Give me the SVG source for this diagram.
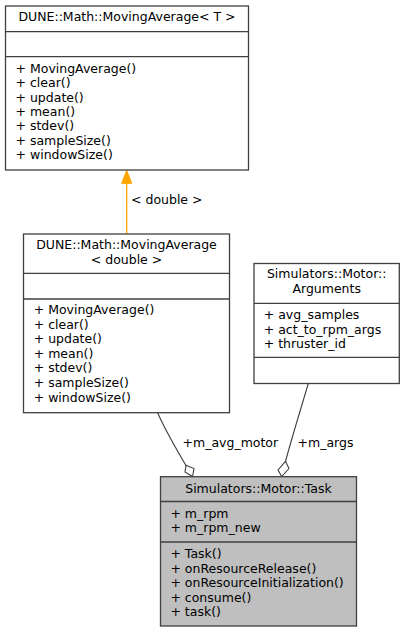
<svg xmlns="http://www.w3.org/2000/svg" width="405" height="632" viewBox="0 0 405 632">
<style>
text{font-family:"DejaVu Sans","Liberation Sans",sans-serif;font-size:12.5px;fill:#000}
.box{fill:#fff;stroke:#404040;stroke-width:1.3}
.sel{fill:#bfbfbf;stroke:#404040;stroke-width:1.3}
.sep{stroke:#404040;stroke-width:1.3;fill:none}
.c{text-anchor:middle}
.edge{fill:none;stroke:#404040;stroke-width:1.1}
.dia{fill:#fff;stroke:#404040;stroke-width:1.1}
</style>
<rect width="405" height="632" fill="#fff"/>
<g id="connectors">
<path d="M126.7,183 L126.7,234" stroke="#ffa500" stroke-width="1.3" fill="none"/>
<polygon points="126.7,170.5 121.7,183.3 131.7,183.3" fill="#ffa500" stroke="#ffa500" stroke-width="1"/>
<text x="131" y="204.3">&lt; double &gt;</text>
<path class="edge" d="M157.5,412.5 C163,425 175,447 186,465.5"/>
<polygon class="dia" points="192.5,476.5 194,468.5 186,465.3 185,472"/>
<text x="182.5" y="447">+m_avg_motor</text>
<path class="edge" d="M308.3,383.5 C302,405 292,437 285.5,461.5"/>
<polygon class="dia" points="281.7,476.5 289,468.5 285.5,461.3 278,470"/>
<text x="297.5" y="447">+m_args</text>
</g>
<g id="node_MovingAverageT">
<rect class="box" x="5.5" y="6" width="243" height="164"/>
<path class="sep" d="M5.5,31.7 H248.5 M5.5,56.7 H248.5"/>
<text class="c" x="127" y="20.7">DUNE::Math::MovingAverage&lt; T &gt;</text>
<text x="15.5" y="72.7">+ MovingAverage()</text>
<text x="15.5" y="87.1">+ clear()</text>
<text x="15.5" y="101.5">+ update()</text>
<text x="15.5" y="115.9">+ mean()</text>
<text x="15.5" y="130.3">+ stdev()</text>
<text x="15.5" y="144.7">+ sampleSize()</text>
<text x="15.5" y="159.1">+ windowSize()</text>
</g>
<g id="node_MovingAverageDouble">
<rect class="box" x="23.5" y="234" width="206" height="178.7"/>
<path class="sep" d="M23.5,273.3 H229.5 M23.5,299 H229.5"/>
<text class="c" x="126.5" y="249.3">DUNE::Math::MovingAverage</text>
<text class="c" x="126.5" y="264.3">&lt; double &gt;</text>
<text x="33.7" y="314">+ MovingAverage()</text>
<text x="33.7" y="328.6">+ clear()</text>
<text x="33.7" y="343.2">+ update()</text>
<text x="33.7" y="357.8">+ mean()</text>
<text x="33.7" y="372.4">+ stdev()</text>
<text x="33.7" y="387">+ sampleSize()</text>
<text x="33.7" y="401.6">+ windowSize()</text>
</g>
<g id="node_Arguments">
<rect class="box" x="254" y="263.5" width="145.3" height="120"/>
<path class="sep" d="M254,303.3 H399.3 M254,357.3 H399.3"/>
<text class="c" x="326.7" y="278.3">Simulators::Motor::</text>
<text class="c" x="326.7" y="293.3">Arguments</text>
<text x="263.7" y="319">+ avg_samples</text>
<text x="263.7" y="333.6">+ act_to_rpm_args</text>
<text x="263.7" y="348.2">+ thruster_id</text>
</g>
<g id="node_Task">
<rect class="sel" x="160.5" y="476.7" width="196" height="149.3"/>
<path class="sep" d="M160.5,501.5 H356.5 M160.5,542 H356.5"/>
<text class="c" x="258.5" y="492.7">Simulators::Motor::Task</text>
<text x="170.4" y="517.5">+ m_rpm</text>
<text x="170.4" y="532">+ m_rpm_new</text>
<text x="170.4" y="558">+ Task()</text>
<text x="170.4" y="572.5">+ onResourceRelease()</text>
<text x="170.4" y="587">+ onResourceInitialization()</text>
<text x="170.4" y="601.5">+ consume()</text>
<text x="170.4" y="616">+ task()</text>
</g>
</svg>
